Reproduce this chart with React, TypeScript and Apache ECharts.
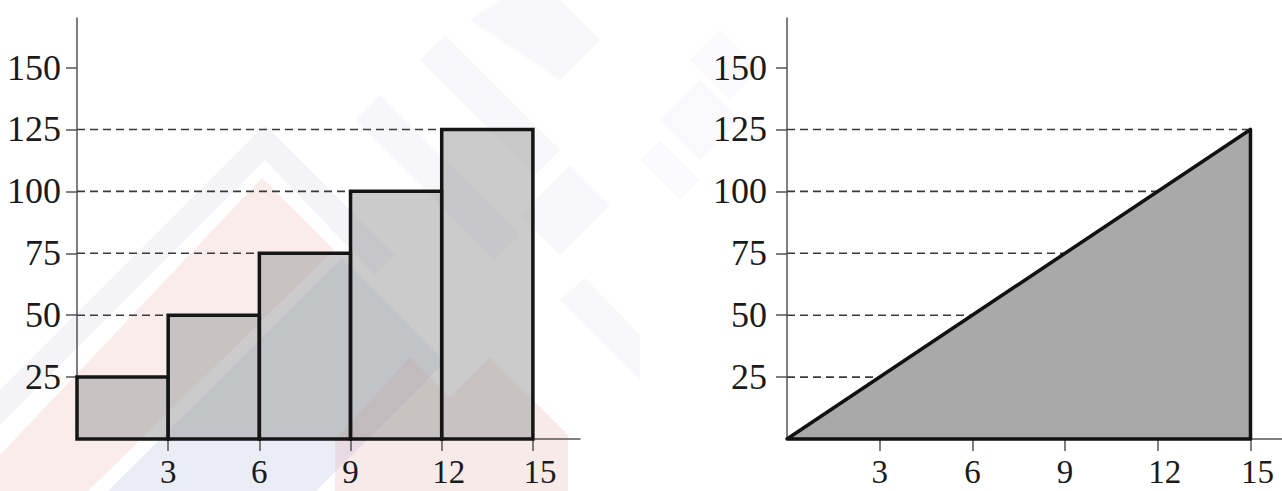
import React, { useEffect, useRef } from "react";
import * as echarts from "echarts";

// ---- data ----
const binStart = [0, 3, 6, 9, 12];
const binEnd = [3, 6, 9, 12, 15];
const binHeight = [25, 50, 75, 100, 125];

const leftDashLevels = [50, 75, 100, 125];
const leftDashEnds = [3, 6, 9, 12];

const rightDashLevels = [25, 50, 75, 100, 125];
const rightDashEnds = [3, 6, 9, 12, 15];

const triX = [0, 15, 15];
const triY = [0, 125, 0];

const xTickValues = [3, 6, 9, 12, 15];
const yTickValues = [25, 50, 75, 100, 125, 150];

const FONT = "Liberation Serif";
const AXIS_COLOR = "#555";
const TEXT_COLOR = "#1a1a1a";
const FS = 36;
const FSX = 33;

function xAxisFor(gridIndex: number, max: number) {
  return {
    type: "value",
    gridIndex,
    min: 0,
    max,
    axisLine: { show: true, onZero: false, lineStyle: { color: AXIS_COLOR, width: 1.5 } },
    axisTick: {
      show: true,
      customValues: xTickValues,
      length: 12,
      lineStyle: { color: AXIS_COLOR, width: 1.5 },
    },
    axisLabel: {
      show: true,
      customValues: xTickValues,
      margin: 16,
      color: TEXT_COLOR,
      fontFamily: FONT,
      fontSize: FSX,
      lineHeight: FSX,
      formatter: (v: number) => (v >= 10 ? `{w|${v}}` : `{n|${v}}`),
      rich: {
        w: { padding: [0, 0, 0, 14], fontFamily: FONT, fontSize: FSX, lineHeight: FSX, color: TEXT_COLOR },
        n: { fontFamily: FONT, fontSize: FSX, lineHeight: FSX, color: TEXT_COLOR },
      },
    },
    splitLine: { show: false },
  };
}

function yAxisFor(gridIndex: number, margin: number) {
  return {
    type: "value",
    gridIndex,
    min: 0,
    max: 170,
    axisLine: { show: true, onZero: false, lineStyle: { color: AXIS_COLOR, width: 1.5 } },
    axisTick: {
      show: true,
      customValues: yTickValues,
      length: 11,
      lineStyle: { color: AXIS_COLOR, width: 1.5 },
    },
    axisLabel: {
      show: true,
      customValues: yTickValues,
      margin,
      color: TEXT_COLOR,
      fontFamily: FONT,
      fontSize: FS,
    },
    splitLine: { show: false },
  };
}

function dashSeries(idx: number, levels: number[], ends: number[]) {
  return {
    type: "custom",
    xAxisIndex: idx,
    yAxisIndex: idx,
    z: 1,
    data: levels.map((lv, i) => [lv, ends[i]]),
    renderItem: (_p: any, api: any) => {
      const lv = api.value(0);
      const end = api.value(1);
      const a = api.coord([0, lv]);
      const b = api.coord([end, lv]);
      return {
        type: "line",
        shape: { x1: a[0], y1: a[1], x2: b[0], y2: b[1] },
        style: { stroke: "#3a3a3a", lineWidth: 1.6, lineDash: [8, 5] },
      };
    },
  };
}

const watermark = [
  // outer grey chevron band
  { pts: [[0, 390], [265, 125], [395, 255], [375, 275], [265, 160], [0, 425]], fill: "rgba(185,185,210,0.16)" },
  // pink triangle
  { pts: [[0, 455], [262, 178], [334, 250], [88, 491], [0, 491]], fill: "rgba(235,160,160,0.20)" },
  // blue-grey area
  { pts: [[108, 491], [342, 258], [445, 362], [316, 491]], fill: "rgba(165,175,215,0.22)" },
  // lower-right pink peaks
  { pts: [[335, 440], [410, 357], [450, 397], [490, 357], [568, 435], [568, 491], [335, 491]], fill: "rgba(225,150,150,0.20)" },
  // grey diagonal bands (faint letters)
  { pts: [[355, 120], [380, 95], [520, 235], [495, 260]], fill: "rgba(190,190,215,0.13)" },
  { pts: [[420, 60], [445, 35], [560, 150], [535, 175]], fill: "rgba(190,190,215,0.11)" },
  { pts: [[470, 20], [500, 0], [560, 0], [600, 40], [560, 80]], fill: "rgba(190,190,215,0.10)" },
  { pts: [[520, 215], [570, 165], [610, 205], [560, 255]], fill: "rgba(190,190,215,0.10)" },
  { pts: [[560, 300], [585, 278], [640, 335], [640, 380]], fill: "rgba(190,190,215,0.10)" },
  { pts: [[660, 120], [700, 80], [740, 120], [700, 160]], fill: "rgba(190,190,215,0.09)" },
  { pts: [[640, 160], [660, 140], [700, 180], [680, 200]], fill: "rgba(190,190,215,0.08)" },
  { pts: [[690, 60], [720, 30], [760, 70], [730, 100]], fill: "rgba(190,190,215,0.08)" },
];

export default function App() {
  const ref = useRef<HTMLDivElement>(null);

  useEffect(() => {
    if (!ref.current) return;
    const chart = echarts.init(ref.current, undefined, { renderer: "svg" });

    const option: any = {
      animation: false,
      backgroundColor: "#ffffff",
      graphic: {
        elements: watermark.map((w) => ({
          type: "polygon",
          z: 0,
          silent: true,
          shape: { points: w.pts },
          style: { fill: w.fill },
        })),
      },
      grid: [
        { left: 77, top: 18, width: 503, height: 421, containLabel: false },
        { left: 787, top: 18, width: 495, height: 421, containLabel: false },
      ],
      xAxis: [xAxisFor(0, 16.55), xAxisFor(1, 16.02)],
      yAxis: [yAxisFor(0, 16), yAxisFor(1, 20)],
      series: [
        dashSeries(0, leftDashLevels, leftDashEnds),
        dashSeries(1, rightDashLevels, rightDashEnds),
        {
          type: "custom",
          xAxisIndex: 0,
          yAxisIndex: 0,
          z: 3,
          data: binStart.map((s, i) => [s, binEnd[i], binHeight[i]]),
          encode: { x: [0, 1], y: 2 },
          renderItem: (_p: any, api: any) => {
            const x0 = api.value(0);
            const x1 = api.value(1);
            const h = api.value(2);
            const tl = api.coord([x0, h]);
            const br = api.coord([x1, 0]);
            return {
              type: "rect",
              shape: { x: tl[0], y: tl[1], width: br[0] - tl[0], height: br[1] - tl[1] },
              style: { fill: "rgba(160,160,160,0.55)", stroke: "#151515", lineWidth: 3.5 },
            };
          },
        },
        {
          type: "custom",
          xAxisIndex: 1,
          yAxisIndex: 1,
          z: 3,
          data: [[triX[1], triY[1]]],
          encode: { x: 0, y: 1 },
          renderItem: (_p: any, api: any) => {
            const pts = triX.map((x, i) => api.coord([x, triY[i]]));
            return {
              type: "polygon",
              shape: { points: pts },
              style: { fill: "#a9a9a9", stroke: "#111", lineWidth: 3.5, lineJoin: "round" },
            };
          },
        },
      ],
    };

    chart.setOption(option);
    return () => chart.dispose();
  }, []);

  return (
    <div
      ref={ref}
      style={{ position: "fixed", left: 0, top: 0, width: 1282, height: 491 }}
    />
  );
}
